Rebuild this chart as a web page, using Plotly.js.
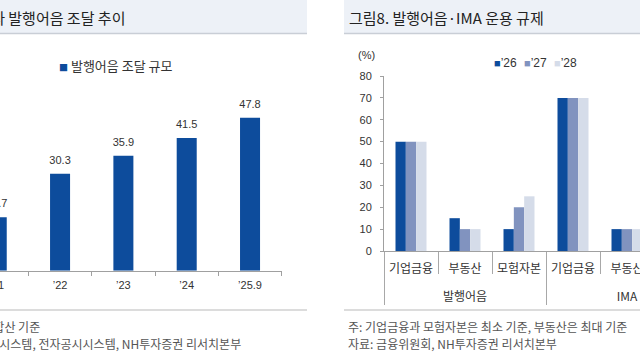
<!DOCTYPE html>
<html>
<head>
<meta charset="utf-8">
<script src="https://cdn.plot.ly/plotly-3.0.1.min.js"></script>
<style>
html,body{margin:0;padding:0;overflow:hidden;background:#fff;width:640px;height:360px;}
#chart{width:750px;height:360px;margin-left:-40px;}
</style>
</head>
<body>
<div id="chart"></div>
<script>
// ---- data: left chart (발행어음 조달 추이) ----
const leftTitle = '그림7. 초대형 IB 4사 발행어음 조달 추이';
const leftSeriesName = '발행어음 조달 규모';
const leftCategories = ['’21', '’22', '’23', '’24', '’25.9'];
const leftValues = [16.7, 30.3, 35.9, 41.5, 47.8];
const leftNote = '주: 초대형 IB 4사 합산 기준';
const leftSource = '자료: 금융투자협회 종합통계정보시스템, 전자공시시스템, NH투자증권 리서치본부';

// ---- data: right chart (발행어음·IMA 운용 규제) ----
const rightTitle = '그림8. 발행어음·IMA 운용 규제';
const rightGroups = ['발행어음', '발행어음', '발행어음', 'IMA', 'IMA', 'IMA'];
const rightItems = ['기업금융', '부동산', '모험자본', '기업금융', '부동산', '모험자본'];
const seriesNames = ['’26', '’27', '’28'];
const values26 = [50, 15, 10, 70, 10, 10];
const values27 = [50, 10, 20, 70, 10, 20];
const values28 = [50, 10, 25, 70, 10, 25];
const rightUnit = '(%)';
const rightNote = '주: 기업금융과 모험자본은 최소 기준, 부동산은 최대 기준';
const rightSource = '자료: 금융위원회, NH투자증권 리서치본부';

// ---- styling ----
const OX = 40;            // the figure starts 40px left of the visible window
const W = 750, H = 360;
const FONT = 'Liberation Sans, Noto Sans CJK KR, sans-serif';
const KFONT = 'Noto Sans CJK KR, sans-serif';
const DARK = '#0d4c9c';
const colors = ['#0d4c9c', '#8193bf', '#d5dce9'];
const px = x => (x + OX) / W;
const py = y => 1 - y / H;

// outer level labels sit one line lower (blank first line) for extra spacing
const outerLabels = rightGroups.map(g => '<br>' + g);

const seriesVals = [values26, values27, values28];
const traces = [];
traces.push({
  type: 'bar', x: leftCategories, y: leftValues, name: leftSeriesName,
  xaxis: 'x', yaxis: 'y', marker: {color: DARK}, width: 0.316,
  hoverinfo: 'skip', showlegend: false
});
traces.push({
  type: 'scatter', mode: 'markers+text', x: leftCategories, y: leftValues,
  text: leftValues.map(v => v.toFixed(1)), textposition: 'top center',
  textfont: {family: FONT, size: 11, color: '#333'},
  marker: {size: 10, opacity: 0}, cliponaxis: false,
  xaxis: 'x', yaxis: 'y', hoverinfo: 'skip', showlegend: false
});
seriesNames.forEach((n, i) => {
  traces.push({
    type: 'bar', x: [outerLabels, rightItems], y: seriesVals[i], name: n,
    xaxis: 'x2', yaxis: 'y2', marker: {color: colors[i]},
    hoverinfo: 'skip', showlegend: false
  });
});

const annotations = [
  {xref: 'paper', yref: 'paper', x: px(127), y: py(17), xanchor: 'right', yanchor: 'middle',
   text: leftTitle, showarrow: false, font: {family: KFONT, size: 15, color: '#222'}},
  {xref: 'paper', yref: 'paper', x: px(347), y: py(17), xanchor: 'left', yanchor: 'middle',
   text: rightTitle, showarrow: false, font: {family: KFONT, size: 15, color: '#222'}},
  {xref: 'paper', yref: 'paper', x: px(57), y: py(65), xanchor: 'left', yanchor: 'middle',
   text: '<span style="font-size:9px;color:' + DARK + '">■</span> ' + leftSeriesName,
   showarrow: false, font: {family: KFONT, size: 13, color: '#333'}},
  {xref: 'paper', yref: 'paper', x: px(366), y: py(55), xanchor: 'center', yanchor: 'middle',
   text: rightUnit, showarrow: false, font: {family: FONT, size: 11, color: '#333'}},
  {xref: 'paper', yref: 'paper', x: px(42), y: py(326), xanchor: 'right', yanchor: 'middle',
   text: leftNote, showarrow: false, font: {family: KFONT, size: 12, color: '#555'}},
  {xref: 'paper', yref: 'paper', x: px(243), y: py(343), xanchor: 'right', yanchor: 'middle',
   text: leftSource, showarrow: false, font: {family: KFONT, size: 12, color: '#555'}},
  {xref: 'paper', yref: 'paper', x: px(346), y: py(326), xanchor: 'left', yanchor: 'middle',
   text: rightNote, showarrow: false, font: {family: KFONT, size: 12, color: '#555'}},
  {xref: 'paper', yref: 'paper', x: px(346), y: py(343), xanchor: 'left', yanchor: 'middle',
   text: rightSource, showarrow: false, font: {family: KFONT, size: 12, color: '#555'}}
];
seriesNames.forEach((n, i) => {
  annotations.push({
    xref: 'paper', yref: 'paper', x: px(492 + i * 30), y: py(63), xanchor: 'left', yanchor: 'middle',
    text: '<span style="font-size:11px;color:' + colors[i] + '">■</span>' + n,
    showarrow: false, font: {family: FONT, size: 12, color: '#333'}
  });
});

const shapes = [
  {type: 'rect', xref: 'paper', yref: 'paper', x0: 0, x1: px(307), y0: py(33), y1: py(0),
   fillcolor: '#edf1f7', line: {width: 0}, layer: 'below'},
  {type: 'rect', xref: 'paper', yref: 'paper', x0: px(344), x1: 1, y0: py(33), y1: py(0),
   fillcolor: '#edf1f7', line: {width: 0}, layer: 'below'},
  {type: 'line', xref: 'paper', yref: 'paper', x0: 0, x1: px(307), y0: py(33.5), y1: py(33.5),
   line: {color: '#c9ced6', width: 1.5}},
  {type: 'line', xref: 'paper', yref: 'paper', x0: px(344), x1: 1, y0: py(33.5), y1: py(33.5),
   line: {color: '#c9ced6', width: 1.5}},
  {type: 'line', xref: 'paper', yref: 'paper', x0: 0, x1: px(307), y0: py(310), y1: py(310),
   line: {color: '#d0d0d0', width: 1.5}},
  {type: 'line', xref: 'paper', yref: 'paper', x0: px(344), x1: 1, y0: py(310), y1: py(310),
   line: {color: '#d0d0d0', width: 1.5}}
];

const layout = {
  width: W, height: H,
  margin: {l: 0, r: 0, t: 0, b: 0, pad: 0},
  paper_bgcolor: '#fff', plot_bgcolor: 'rgba(0,0,0,0)',
  font: {family: FONT, size: 11, color: '#333'},
  showlegend: false,
  bargap: 0.426, bargroupgap: 0,
  barmode: 'group',
  xaxis: {
    domain: [0, px(281.7)], range: [-0.58, 4.5], type: 'category', anchor: 'y',
    showline: true, linecolor: '#a0a0a0', linewidth: 1,
    ticks: 'outside', tickson: 'boundaries', ticklen: 4, tickcolor: '#a0a0a0',
    showgrid: false, zeroline: false, fixedrange: true,
    tickfont: {family: FONT, size: 11, color: '#333'}, ticklabelstandoff: 4
  },
  yaxis: {
    domain: [py(270.7), py(100)], range: [0, (270.7 - 100) / 3.2], visible: false, fixedrange: true
  },
  xaxis2: {
    domain: [px(384), px(708)], range: [-0.5, 5.5], type: 'multicategory', anchor: 'y2',
    showline: true, linecolor: '#a0a0a0', linewidth: 1,
    ticks: 'outside', tickson: 'boundaries', ticklen: 22, tickcolor: '#a8a8a8',
    showdividers: true, dividercolor: '#a8a8a8', dividerwidth: 1,
    showgrid: false, zeroline: false, fixedrange: true, tickangle: 0,
    tickfont: {family: KFONT, size: 12, color: '#333'}, ticklabelstandoff: 7
  },
  yaxis2: {
    domain: [py(251), py(76)], range: [0, 80], anchor: 'x2', dtick: 10,
    showline: true, linecolor: '#a0a0a0', linewidth: 1,
    ticks: 'outside', ticklen: 3, tickcolor: '#a0a0a0',
    showgrid: false, zeroline: false, fixedrange: true,
    tickfont: {family: FONT, size: 11, color: '#333'}, ticklabelstandoff: 6
  },
  annotations: annotations,
  shapes: shapes
};

Plotly.newPlot('chart', traces, layout, {displayModeBar: false, staticPlot: true});
</script>
</body>
</html>
